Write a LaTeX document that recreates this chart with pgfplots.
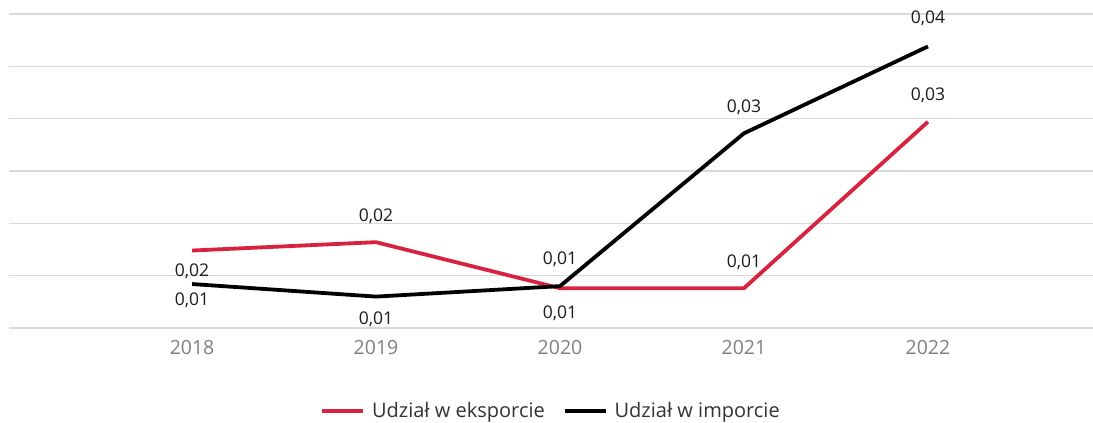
\documentclass[border=0pt]{standalone}
\usepackage{fontspec}
\setmainfont{Open Sans}
\usepackage{pgfplots}
\pgfplotsset{compat=1.18}
\usepackage{pgfplotstable}
\definecolor{expred}{HTML}{D7233F}
\definecolor{gridgray}{HTML}{D9D9D9}
\definecolor{ticktxt}{HTML}{7F7F7F}
\definecolor{labtxt}{HTML}{1A1A1A}
\definecolor{legtxt}{HTML}{333333}

\pgfplotstableread{
x y off
0 0.0174 -21
1 0.0182 26
2 0.0138 -25
3 0.0138 26
4 0.0297 27
}\exportdata
\pgfplotstableread{
x y off
0 0.0142 -16
1 0.0130 -23
2 0.0140 27
3 0.0286 26
4 0.0369 28
}\importdata

\begin{document}
\begin{tikzpicture}
\useasboundingbox (0,0) rectangle (1093bp,423bp);
\begin{axis}[
  scale only axis,
  at={(9bp,95bp)}, anchor=south west,
  width=1084bp, height=314bp,
  xmin=-0.995, xmax=4.897,
  ymin=0.01, ymax=0.04,
  ytick={0.01,0.015,0.02,0.025,0.03,0.035,0.04},
  yticklabels={},
  scaled y ticks=false,
  ymajorgrids,
  grid style={gridgray, line width=1.2bp},
  axis line style={draw=none},
  major tick length=0pt,
  xtick={0,1,2,3,4},
  xticklabels={2018,2019,2020,2021,2022},
  xticklabel style={font=\fontsize{19.5bp}{22bp}\selectfont, text=ticktxt, yshift=-9bp},
  clip=false,
  nodes near coords,
  /pgf/number format/.cd, use comma, fixed, fixed zerofill, precision=2, assume math mode=true,
  /pgfplots/.cd,
  visualization depends on={\thisrow{off}\as\myoff},
  every node near coord/.append style={anchor=center, yshift=\myoff bp, font=\fontsize{17.5bp}{20bp}\selectfont, text=labtxt},
  legend columns=2,
  legend style={at={(0.5,-0.264)}, anchor=center, draw=none, fill=none,
    font=\fontsize{20bp}{22bp}\selectfont, text=legtxt,
    /tikz/every even column/.append style={column sep=16bp}},
  legend cell align=left,
  legend image code/.code={\draw[#1, line width=4bp] (0bp,0bp) -- (41bp,0bp); \path (46bp,0bp);},
]
\addplot[expred, line width=3.8bp, mark=none] table[x=x,y=y] {\exportdata};
\addlegendentry{Udział w eksporcie}
\addplot[black, line width=3.8bp, mark=none] table[x=x,y=y] {\importdata};
\addlegendentry{Udział w imporcie}
\end{axis}
\end{tikzpicture}
\end{document}
